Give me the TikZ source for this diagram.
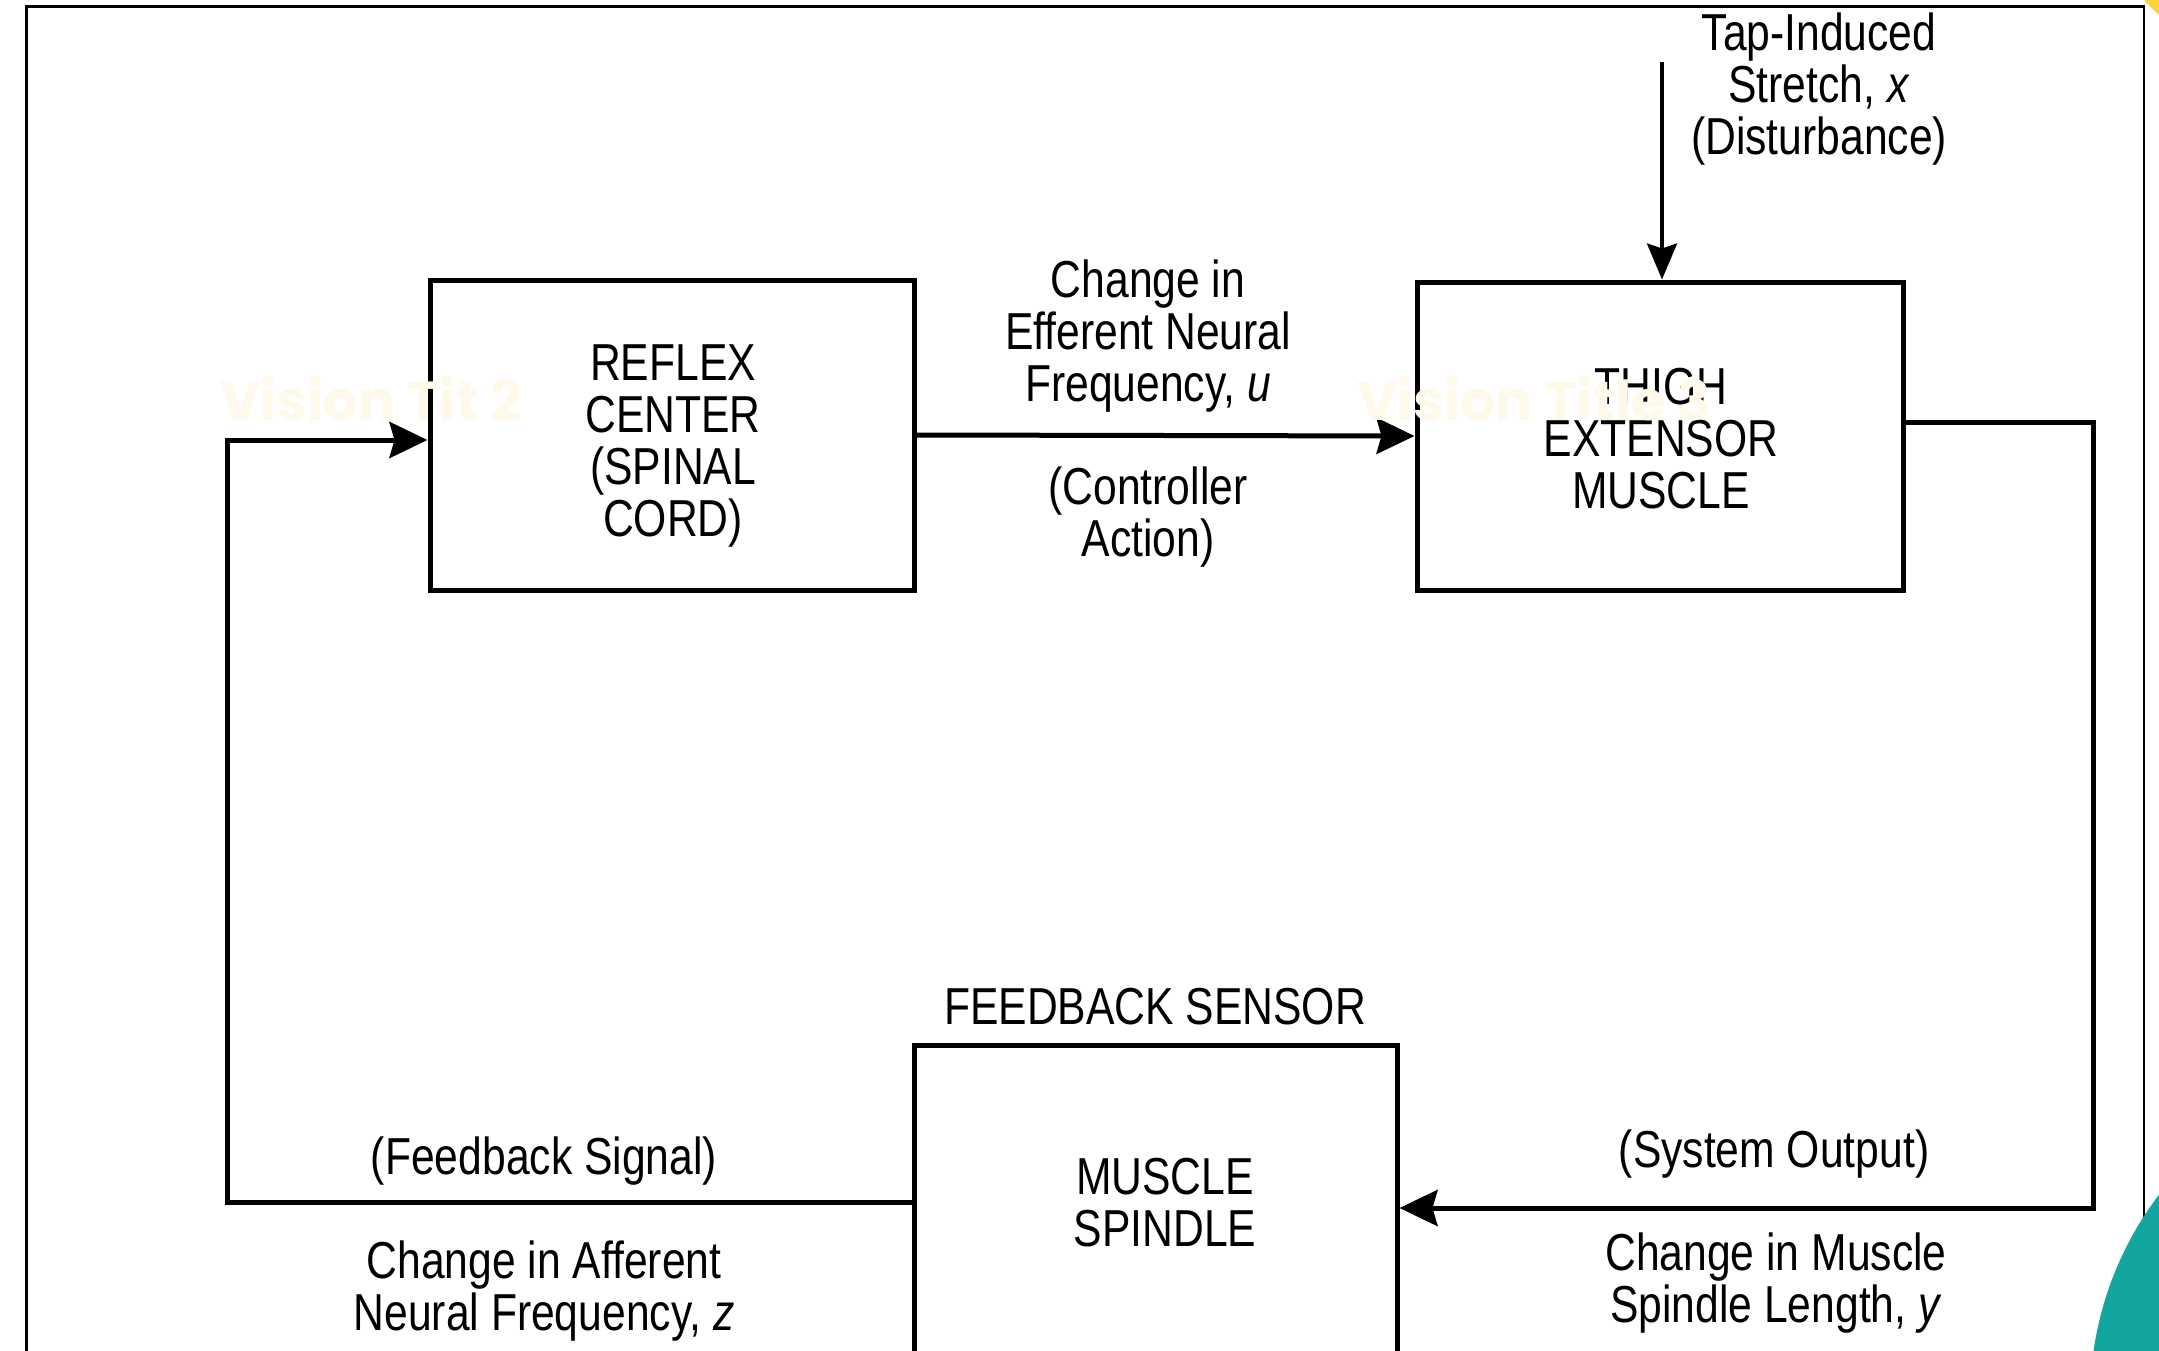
\documentclass[tikz,border=0pt]{standalone}
\usepackage{fontspec}
\setmainfont{Liberation Sans}[FakeStretch=0.82]
\newfontfamily\wmfont{Poppins}
\usetikzlibrary{arrows.meta}
\definecolor{tealc}{RGB}{19,166,158}
\definecolor{ylwc}{RGB}{249,212,60}
\definecolor{wmc}{RGB}{255,249,234}
\newcommand\dgfont{\fontsize{52}{52}\selectfont}
\begin{document}
\begin{tikzpicture}[x=1pt,y=-1pt,
  box/.style={draw, line width=5pt, minimum width=484pt, minimum height=310pt, inner sep=0pt},
  lbl/.style={align=center, inner sep=0pt, font=\dgfont},
  conn/.style={line width=5pt, -{Stealth[length=38pt,width=36pt,inset=5pt]}},
  wmark/.style={inner sep=0pt, text=wmc, font=\wmfont\bfseries\fontsize{55}{55}\selectfont},
]
\path[use as bounding box] (0,0) rectangle (2159,1351);
\clip (0,0) rectangle (2159,1351);
\fill[white] (0,0) rectangle (2159,1351);
% decorative corner circle
\fill[ylwc] (2260,-100) circle (153pt);
% outer frame
\draw[line width=2.5pt] (26.7,1370) -- (26.7,6.7) -- (2144,6.7) -- (2144,1370);
% blocks
\node[box] (reflex) at (672,435) {};
\node[box, minimum width=486pt, minimum height=308pt] (thigh) at (1660,436) {};
\node[box, minimum width=483pt, minimum height=314pt] (spindle) at (1155.5,1202) {};
\node[lbl] (reflext) at (673,446) {REFLEX\\CENTER\\(SPINAL\\CORD)};
\node[lbl] (thight) at (1661,439) {THIGH\\EXTENSOR\\MUSCLE};
\node[lbl] (spindlet) at (1165,1203) {MUSCLE\\SPINDLE};
% connectors
\draw[conn] (reflex.east) -- (thigh.west);
\coordinate (dist) at (1662,62);
\draw[line width=3.5pt, -{Stealth[length=36pt,width=30pt,inset=5pt]}] (dist) -- (dist |- thigh.north);
\coordinate (rc1) at (2093,422);
\coordinate (rc2) at (2093,1208);
\draw[conn] (thigh.east |- rc1) -- (rc1) -- (rc2) -- (spindle.east |- rc2);
\coordinate (lc1) at (227,1202);
\coordinate (lc2) at (227,440);
\draw[conn] (spindle.west) -- (lc1) -- (lc2) -- (reflex.west |- lc2);
% labels
\node[lbl] (ldist) at (1819,89) {Tap-Induced\\Stretch, \textit{x}\\(Disturbance)};
\node[lbl] (lu) at (1148,336) {Change in\\Efferent Neural\\Frequency, \textit{u}};
\node[lbl] (lca) at (1148,517) {(Controller\\Action)};
\node[lbl] (lfs) at (1155,1007) {FEEDBACK SENSOR};
\node[lbl] (lfb) at (544,1161) {(Feedback Signal)};
\node[lbl] (lz) at (544,1291) {Change in Afferent\\Neural Frequency, \textit{z}};
\node[lbl] (lso) at (1774,1154) {(System Output)};
\node[lbl] (ly) at (1776,1283) {Change in Muscle\\Spindle Length, \textit{y}};
% faint watermarks
\node[wmark] (wm1) at (371,399) {Vision Tit 2};
\node[wmark, anchor=west] (wm2) at (1357,399) {Vision Title 3};
% decorative teal circle
\fill[tealc] (2430,1400) circle (340pt);
\end{tikzpicture}
\end{document}
